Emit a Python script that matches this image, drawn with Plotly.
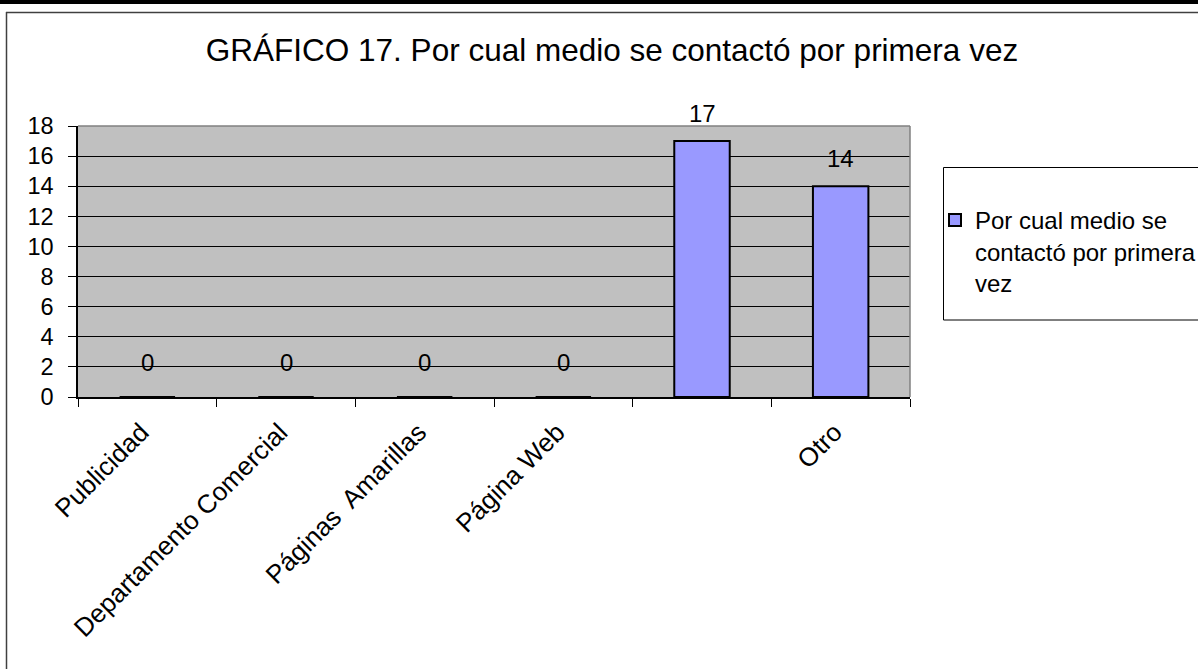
import plotly.graph_objects as go

categories = ["Publicidad", "Departamento Comercial", "Páginas  Amarillas", "Página Web", " ", "Otro"]
values = [0, 0, 0, 0, 17, 14]
series_name = "Por cual medio se<br>contactó por primera<br>vez"
title_text = "GRÁFICO 17. Por cual medio se contactó por primera vez"
y_ticks = [0, 2, 4, 6, 8, 10, 12, 14, 16, 18]

W, H = 1198, 669
L, R, T, B = 78, 910, 126, 397
FONT = "Liberation Sans, Arial, sans-serif"

def px_x(px):
    return (px - L) / (R - L)

def px_y(py):
    return (B - py) / (B - T)

fig = go.Figure()
fig.add_trace(go.Bar(
    x=categories, y=values, name=series_name,
    marker=dict(color="#9999FF", line=dict(color="black", width=2)),
    width=0.4, showlegend=True,
))

for c, v in zip(categories, values):
    fig.add_annotation(x=c, y=v, text=str(v), showarrow=False,
                       yanchor="middle", yshift=(35 if v == 0 else 28),
                       font=dict(family=FONT, size=24, color="black"))

shapes = [
    dict(type="rect", xref="paper", yref="paper", x0=px_x(0), x1=px_x(W), y0=px_y(4), y1=px_y(0),
         fillcolor="black", line=dict(width=0), layer="above"),
    dict(type="line", xref="paper", yref="paper", x0=px_x(6.5), x1=px_x(6.5), y0=px_y(12), y1=px_y(H + 5),
         line=dict(color="#404040", width=1.5)),
    dict(type="line", xref="paper", yref="paper", x0=px_x(6), x1=px_x(W), y0=px_y(12.5), y1=px_y(12.5),
         line=dict(color="#404040", width=1.5)),
    dict(type="rect", xref="paper", yref="paper", x0=px_x(943.5), x1=px_x(W + 5), y0=px_y(320), y1=px_y(167.5),
         line=dict(color="black", width=1), fillcolor="rgba(0,0,0,0)"),
    dict(type="line", xref="paper", yref="paper", x0=0, x1=1, y0=1, y1=1, line=dict(color="#808080", width=1.5)),
    dict(type="line", xref="paper", yref="paper", x0=1, x1=1, y0=0, y1=1, line=dict(color="#808080", width=1.5)),
]

fig.update_layout(
    width=W, height=H,
    margin=dict(l=L, r=W - R, t=T, b=H - B, pad=0, autoexpand=False),
    paper_bgcolor="white", plot_bgcolor="#C0C0C0",
    font=dict(family=FONT, size=24, color="black"),
    title=dict(text=title_text, x=px_x(612), xref="paper", xanchor="center",
               y=1 - 50 / H, yref="container", yanchor="middle",
               font=dict(family=FONT, size=31.5, color="black")),
    bargap=0.6,
    showlegend=True,
    legend=dict(x=935 / W, y=1 - 198 / H, xref="container", yref="container",
                xanchor="left", yanchor="top",
                bgcolor="rgba(0,0,0,0)", borderwidth=0, valign="top",
                font=dict(family=FONT, size=24, color="black"),
                itemwidth=30, tracegroupgap=0),
    shapes=shapes,
)

fig.update_xaxes(
    type="category", tickson="boundaries", ticks="outside", ticklen=8, tickcolor="black",
    tickangle=-45, showline=True, linecolor="black", linewidth=1.5, showgrid=False,
    ticklabelstandoff=8, ticklabelshift=-6, automargin=False,
    tickfont=dict(family=FONT, size=26, color="black"),
)
fig.update_yaxes(
    range=[0, 18], tickvals=y_ticks, ticks="outside", ticklen=8, tickcolor="black",
    showline=True, linecolor="black", linewidth=1.5, showgrid=True, gridcolor="black", gridwidth=1,
    zeroline=False, ticklabelstandoff=10, automargin=False,
    tickfont=dict(family=FONT, size=23.5, color="black"),
)

fig.write_html(
    "out.html", config={"displayModeBar": False},
    post_script=("document.body.style.margin='0px';"
                 "document.body.style.overflow='hidden';"
                 "document.documentElement.style.overflow='hidden';"),
)
